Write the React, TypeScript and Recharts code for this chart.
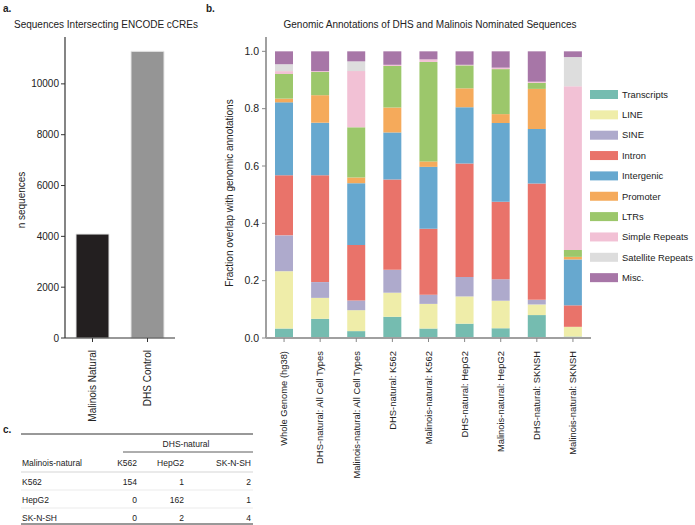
import React from 'react';
import { BarChart, Bar, XAxis, YAxis, Cell } from 'recharts';

// panel a
const ccreGroups = ['Malinois Natural', 'DHS Control'];
const ccreCounts = [4090, 11280];
const ccreColors = ['#231f20', '#959595'];
const ccreTicks = [0, 2000, 4000, 6000, 8000, 10000];

// panel b
const sets = [
  'Whole Genome (hg38)',
  'DHS-natural: All Cell Types',
  'Malinois-natural: All Cell Types',
  'DHS-natural: K562',
  'Malinois-natural: K562',
  'DHS-natural: HepG2',
  'Malinois-natural: HepG2',
  'DHS-natural: SKNSH',
  'Malinois-natural: SKNSH',
];
const transcripts = [0.033, 0.067, 0.024, 0.074, 0.033, 0.050, 0.034, 0.080, 0.005];
const line = [0.200, 0.073, 0.073, 0.084, 0.086, 0.095, 0.096, 0.037, 0.034];
const sine = [0.125, 0.055, 0.034, 0.080, 0.032, 0.068, 0.075, 0.016, 0.0];
const intron = [0.210, 0.373, 0.193, 0.315, 0.230, 0.396, 0.270, 0.406, 0.075];
const intergenic = [0.254, 0.183, 0.216, 0.164, 0.216, 0.196, 0.275, 0.190, 0.160];
const promoter = [0.013, 0.096, 0.020, 0.087, 0.019, 0.066, 0.031, 0.140, 0.009];
const ltrs = [0.086, 0.081, 0.175, 0.145, 0.347, 0.080, 0.157, 0.021, 0.024];
const simpleRepeats = [0.010, 0.003, 0.196, 0.004, 0.009, 0.002, 0.005, 0.004, 0.571];
const satelliteRepeats = [0.024, 0.0, 0.034, 0.0, 0.0, 0.0, 0.0, 0.0, 0.102];
const misc = [0.045, 0.069, 0.035, 0.047, 0.028, 0.047, 0.057, 0.106, 0.020];
const fractionTicks = [0, 0.2, 0.4, 0.6, 0.8, 1.0];

const annotations = [
  { key: 'Transcripts', values: transcripts, color: '#75bcb0' },
  { key: 'LINE', values: line, color: '#efeda9' },
  { key: 'SINE', values: sine, color: '#aeaacc' },
  { key: 'Intron', values: intron, color: '#e9736a' },
  { key: 'Intergenic', values: intergenic, color: '#67a8cf' },
  { key: 'Promoter', values: promoter, color: '#f5aa5b' },
  { key: 'LTRs', values: ltrs, color: '#9cc76b' },
  { key: 'Simple Repeats', values: simpleRepeats, color: '#f2c1d5' },
  { key: 'Satellite Repeats', values: satelliteRepeats, color: '#dddddd' },
  { key: 'Misc.', values: misc, color: '#a776a7' },
];

// panel c
const dhsCols = ['K562', 'HepG2', 'SK-N-SH'];
const malinoisRows = ['K562', 'HepG2', 'SK-N-SH'];
const overlapCounts = [
  [154, 1, 2],
  [0, 162, 1],
  [0, 2, 4],
];

const font = '"Liberation Sans", Arial, Helvetica, sans-serif';
const ink = '#222';

const ccreData = ccreGroups.map((g, i) => ({ name: g, value: ccreCounts[i] }));
const annoData = sets.map((s, i) => {
  const row: Record<string, string | number> = { name: s };
  annotations.forEach(a => { row[a.key] = a.values[i]; });
  return row;
});

function RotatedTick(props: any) {
  const { x, y, payload, size } = props;
  return (
    <text
      transform={`translate(${x},${y}) rotate(-90)`}
      textAnchor="end"
      dy="0.35em"
      fontSize={size || 10}
      fill={ink}
      fontFamily={font}
    >
      {payload.value}
    </text>
  );
}

function Table() {
  const colRight = [137, 184, 251];
  const rowY = [485, 503, 521];
  return (
    <g fontFamily={font} fontSize={8.5} fill={ink}>
      <line x1={21} x2={253} y1={434} y2={434} stroke="#333" strokeWidth={1} />
      <text x={186} y={447} textAnchor="middle">DHS-natural</text>
      <line x1={123} x2={253} y1={452} y2={452} stroke="#333" strokeWidth={0.8} />
      <text x={22} y={466}>Malinois-natural</text>
      {dhsCols.map((c, j) => (
        <text key={c} x={colRight[j]} y={466} textAnchor="end">{c}</text>
      ))}
      <line x1={21} x2={253} y1={472} y2={472} stroke="#bbb" strokeWidth={0.6} />
      {malinoisRows.map((r, i) => (
        <g key={r}>
          <text x={22} y={rowY[i]}>{r}</text>
          {overlapCounts[i].map((v, j) => (
            <text key={j} x={colRight[j]} y={rowY[i]} textAnchor="end">{v}</text>
          ))}
          {i < 2 && <line x1={21} x2={253} y1={rowY[i] + 5} y2={rowY[i] + 5} stroke="#ddd" strokeWidth={0.6} />}
        </g>
      ))}
      <line x1={21} x2={253} y1={524} y2={524} stroke="#333" strokeWidth={1} />
    </g>
  );
}

export default function App() {
  return (
    <div style={{ position: 'absolute', left: 0, top: 0, width: 695, height: 525, background: '#fff', overflow: 'hidden', fontFamily: font }}>
      <div style={{ position: 'absolute', left: 0, top: 0 }}>
        <BarChart width={200} height={430} data={ccreData} margin={{ top: 37, right: 25, left: 0, bottom: 0 }} barCategoryGap="20%">
          <YAxis
            width={65}
            domain={[0, 11844]}
            ticks={ccreTicks}
            tick={{ fontSize: 10, fill: ink, fontFamily: font }}
            tickSize={4}
            tickMargin={2}
            axisLine={{ stroke: '#333', strokeWidth: 1.2 }}
            tickLine={{ stroke: '#333' }}
          />
          <XAxis
            dataKey="name"
            height={92}
            interval={0}
            tickSize={4}
            tickMargin={8}
            tick={<RotatedTick size={10} />}
            axisLine={{ stroke: '#333', strokeWidth: 1.2 }}
            tickLine={{ stroke: '#333' }}
          />
          <Bar dataKey="value" isAnimationActive={false} stroke="#e6e6e6" strokeWidth={1}>
            {ccreData.map((d, i) => (
              <Cell key={d.name} fill={ccreColors[i]} />
            ))}
          </Bar>
        </BarChart>
      </div>
      <div style={{ position: 'absolute', left: 200, top: 0 }}>
        <BarChart width={400} height={510} data={annoData} margin={{ top: 37, right: 9, left: 0, bottom: 0 }}>
          <YAxis
            width={66}
            domain={[0, 1.05]}
            ticks={fractionTicks}
            tickFormatter={(v: number) => v.toFixed(1)}
            tick={{ fontSize: 10.5, fill: ink, fontFamily: font }}
            tickSize={4}
            tickMargin={3}
            axisLine={{ stroke: '#a0a0a0', strokeWidth: 2 }}
            tickLine={{ stroke: '#888' }}
          />
          <XAxis
            dataKey="name"
            height={172}
            interval={0}
            tickSize={4}
            tickMargin={9}
            tick={<RotatedTick size={9.4} />}
            axisLine={{ stroke: '#a0a0a0', strokeWidth: 2 }}
            tickLine={{ stroke: '#888' }}
          />
          {annotations.map(a => (
            <Bar key={a.key} dataKey={a.key} stackId="s" fill={a.color} barSize={18} isAnimationActive={false} />
          ))}
        </BarChart>
      </div>
      <svg width={695} height={525} style={{ position: 'absolute', left: 0, top: 0, pointerEvents: 'none' }}>
        <g fontFamily={font} fill={ink}>
          <text x={3} y={12} fontSize={10} fontWeight="bold">a.</text>
          <text x={206} y={12} fontSize={10} fontWeight="bold">b.</text>
          <text x={3} y={433} fontSize={10} fontWeight="bold">c.</text>
          <text x={106} y={28} fontSize={10} textAnchor="middle">Sequences Intersecting ENCODE cCREs</text>
          <text x={430} y={28} fontSize={10} textAnchor="middle">Genomic Annotations of DHS and Malinois Nominated Sequences</text>
          <text transform="translate(21,200) rotate(-90)" fontSize={10} textAnchor="middle" dy="0.35em">n sequences</text>
          <text transform="translate(229,193) rotate(-90)" fontSize={10} textAnchor="middle" dy="0.35em">Fraction overlap with genomic annotations</text>
          {annotations.map((a, i) => (
            <g key={a.key}>
              <rect x={590} y={90 + i * 20.35} width={28} height={9} fill={a.color} />
              <text x={622} y={94.5 + i * 20.35} fontSize={9.4} dy="0.35em">{a.key}</text>
            </g>
          ))}
        </g>
        <Table />
      </svg>
    </div>
  );
}
